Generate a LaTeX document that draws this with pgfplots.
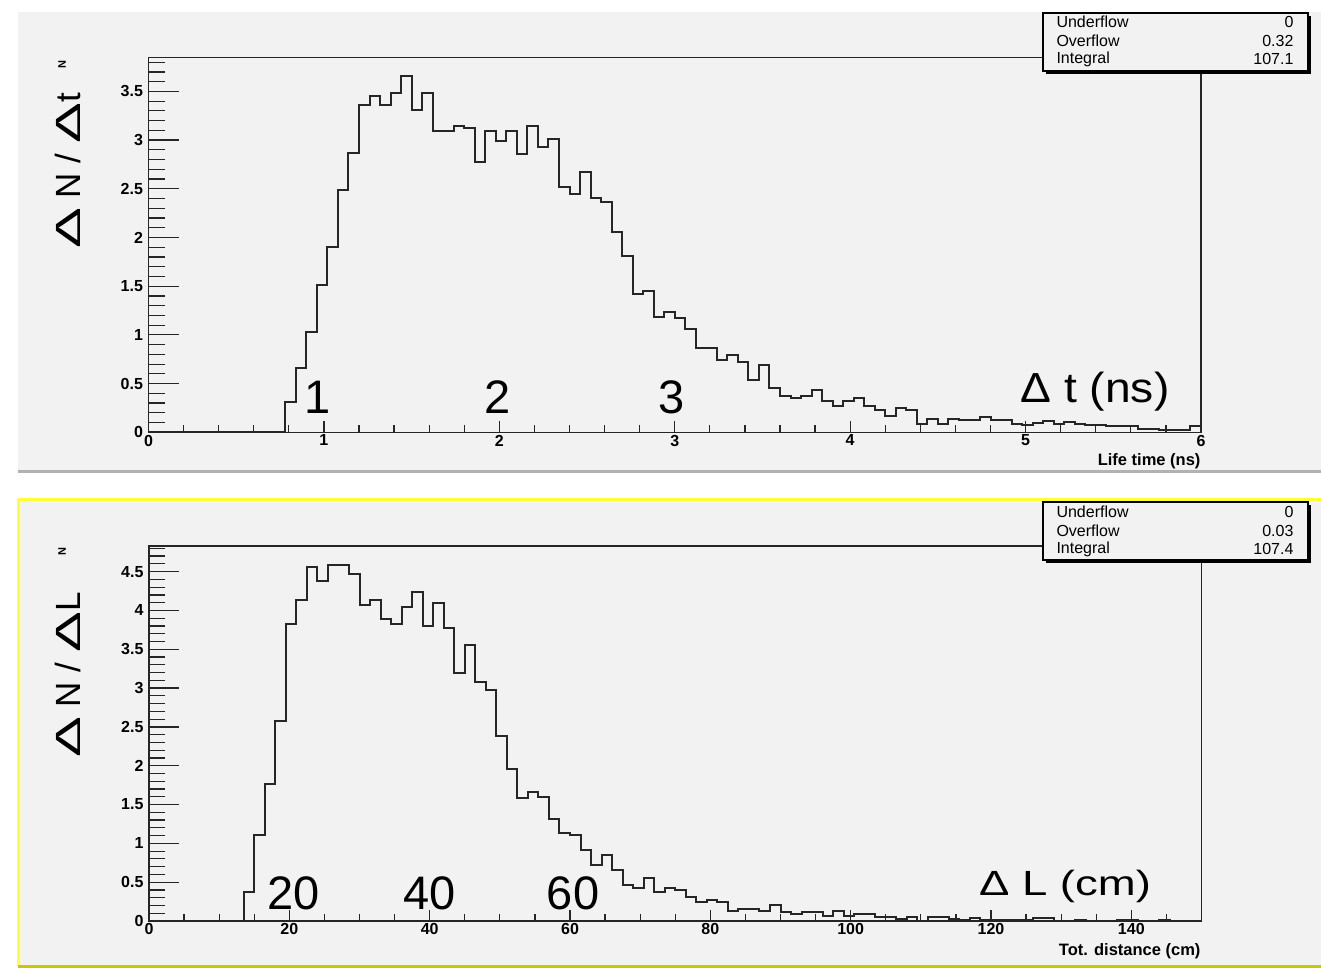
\documentclass[border=0pt]{standalone}
\usepackage{graphicx}
\usepackage{fontspec}
\setmainfont{Liberation Sans}
\usepackage{pgfplots}
\pgfplotsset{compat=1.18}

\definecolor{padgray}{HTML}{F2F2F2}
\definecolor{padyellow}{HTML}{FFFF33}
\definecolor{padolive}{HTML}{C8C800}
\definecolor{histline}{HTML}{262626}

\newcommand{\tickfont}{\fontsize{16}{18}\selectfont\bfseries}
\newcommand{\titlefont}{\fontsize{16.5}{18}\selectfont\bfseries}
\newcommand{\statfont}{\fontsize{16}{18}\selectfont}
\newcommand{\bigfont}{\fontsize{47}{50}\selectfont}
\newcommand{\wD}{\scalebox{1.75}[1]{Δ}}

\pgfplotsset{rootaxis/.style={
    scale only axis, width=1052.5pt, height=375pt, anchor=south west,
    axis line style={line width=1.5pt, black!85},
    tick align=inside, xtick pos=left, ytick pos=left,
    tick style={line width=1.2pt, black!85},
    xtick style={/pgfplots/major tick length=11pt, /pgfplots/minor tick length=7pt},
    ytick style={/pgfplots/major tick length=30pt, /pgfplots/minor tick length=16pt},
    ticklabel style={font=\tickfont},
    /pgf/number format/assume math mode=true,
    yticklabel style={/pgf/number format/fixed, xshift=-2pt},
    xticklabel style={yshift=1pt},
    clip=true,
  }}

\begin{document}
\begin{tikzpicture}
\useasboundingbox (0pt,0pt) rectangle (1321pt,970pt);
\fill[white] (0pt,0pt) rectangle (1321pt,970pt);
% top pad
\fill[padgray] (18pt,498pt) rectangle (1321pt,958pt);
\draw[black!30, line width=3pt] (18pt,498pt) -- (1321pt,498pt);
% bottom pad
\fill[padgray] (18pt,4pt) rectangle (1321pt,470pt);
\draw[padyellow, line width=3pt] (1321pt,470pt) -- (18pt,470pt) -- (18pt,4pt);
\draw[padolive, line width=3pt] (18pt,4pt) -- (1321pt,4pt);

% ---- life time histogram
\begin{axis}[rootaxis, at={(148.5pt,537.7pt)},
    xmin=0, xmax=6, ymin=0, ymax=3.85,
    xtick={0,1,2,3,4,5,6}, minor xtick={0.2,0.4,...,5.8},
    ytick={0,0.5,1,1.5,2,2.5,3,3.5}, minor ytick={0.1,0.2,...,3.8}]
\addplot[const plot, no marks, line width=2pt, histline] coordinates {
(0,0) (0.78,0.31) (0.84,0.66) (0.90,1.03) (0.96,1.51) (1.02,1.90) (1.08,2.49)
(1.14,2.87) (1.20,3.36) (1.26,3.45) (1.32,3.36) (1.38,3.48) (1.44,3.66)
(1.50,3.31) (1.56,3.48) (1.62,3.09) (1.68,3.09) (1.74,3.14) (1.80,3.12)
(1.86,2.78) (1.92,3.09) (1.98,2.99) (2.04,3.09) (2.10,2.86) (2.16,3.14)
(2.22,2.93) (2.28,3.01) (2.34,2.52) (2.40,2.45) (2.46,2.67) (2.52,2.41)
(2.58,2.36) (2.64,2.06) (2.70,1.81) (2.76,1.42) (2.82,1.45) (2.88,1.18)
(2.94,1.24) (3.00,1.17) (3.06,1.06) (3.12,0.87) (3.18,0.87) (3.24,0.74)
(3.30,0.79) (3.36,0.72) (3.42,0.54) (3.48,0.69) (3.54,0.45) (3.60,0.37)
(3.66,0.35) (3.72,0.37) (3.78,0.43) (3.84,0.32) (3.90,0.27) (3.96,0.32)
(4.02,0.35) (4.08,0.27) (4.14,0.23) (4.20,0.17) (4.26,0.25) (4.32,0.23)
(4.38,0.09) (4.44,0.14) (4.50,0.09) (4.56,0.14) (4.62,0.13) (4.68,0.13)
(4.74,0.16) (4.80,0.13) (4.86,0.13) (4.92,0.09) (4.98,0.08) (5.04,0.10)
(5.10,0.12) (5.16,0.09) (5.22,0.11) (5.28,0.09) (5.34,0.08) (5.40,0.08)
(5.46,0.06) (5.52,0.06) (5.58,0.06) (5.64,0.03) (5.70,0.03) (5.76,0.02)
(5.82,0.02) (5.88,0.02) (5.94,0.06) (6.00,0.06)};
\end{axis}

% ---- distance histogram
\begin{axis}[rootaxis, at={(149pt,49pt)},
    xmin=0, xmax=150, ymin=0, ymax=4.83,
    xtick={0,20,40,60,80,100,120,140}, minor xtick={5,10,...,145},
    ytick={0,0.5,1,1.5,2,2.5,3,3.5,4,4.5}, minor ytick={0.1,0.2,...,4.8}]
\addplot[const plot, no marks, line width=2pt, histline] coordinates {
(0,0) (13.5,0.38) (15,1.11) (16.5,1.77) (18,2.57) (19.5,3.83) (21,4.13)
(22.5,4.56) (24,4.38) (25.5,4.59) (27,4.59) (28.5,4.47) (30,4.07) (31.5,4.13)
(33,3.89) (34.5,3.83) (36,4.05) (37.5,4.24) (39,3.80) (40.5,4.10) (42,3.77)
(43.5,3.20) (45,3.56) (46.5,3.08) (48,2.98) (49.5,2.38) (51,1.96) (52.5,1.58)
(54,1.66) (55.5,1.60) (57,1.31) (58.5,1.13) (60,1.11) (61.5,0.91) (63,0.72)
(64.5,0.85) (66,0.66) (67.5,0.46) (69,0.43) (70.5,0.56) (72,0.38) (73.5,0.43)
(75,0.40) (76.5,0.31) (78,0.25) (79.5,0.27) (81,0.24) (82.5,0.13) (84,0.15)
(85.5,0.15) (87,0.13) (88.5,0.21) (90,0.11) (91.5,0.09) (93,0.11) (94.5,0.11)
(96,0.07) (97.5,0.13) (99,0.07) (100.5,0.09) (102,0.09) (103.5,0.05)
(105,0.05) (106.5,0.03) (108,0.05) (109.5,0.00) (111,0.05) (112.5,0.05)
(114,0.02) (115.5,0.01) (117,0.04) (118.5,0.01) (120,0.01) (121.5,0.01)
(123,0.01) (124.5,0.01) (126,0.04) (127.5,0.04) (129,0) (130.5,0) (132,0.01)
(133.5,0) (135,0) (136.5,0) (138,0.01) (139.5,0.01) (141,0) (142.5,0)
(144,0.01) (145.5,0) (147,0) (148.5,0) (150,0)};
\end{axis}

% axis titles
\node[anchor=east, font=\titlefont] at (1204pt,509pt) {Life time (ns)};
\node[anchor=east, font=\titlefont] at (1204pt,19pt) {Tot. distance (cm)};
\node[rotate=90, font=\fontsize{11}{12}\selectfont\bfseries] at (62pt,905pt) {N};
\node[rotate=90, font=\fontsize{11}{12}\selectfont\bfseries] at (62pt,418pt) {N};

% big hand-written labels
\node[rotate=90, anchor=base, font=\fontsize{35}{38}\selectfont] at (80pt,799pt) {\wD\ N / \wD t};
\node[rotate=90, anchor=base, font=\fontsize{35}{38}\selectfont] at (80pt,295pt) {\wD\ N / \wD L};
\node[anchor=base, font=\bigfont] at (318pt,556pt) {1};
\node[anchor=base, font=\bigfont] at (498pt,556pt) {2};
\node[anchor=base, font=\bigfont] at (672pt,556pt) {3};
\node[anchor=base, font=\fontsize{42}{45}\selectfont] at (1095pt,567pt) {\scalebox{1.1}[1]{Δ t (ns)}};
\node[anchor=base, font=\bigfont] at (294pt,61pt) {20};
\node[anchor=base, font=\bigfont] at (430pt,61pt) {40};
\node[anchor=base, font=\bigfont] at (573pt,61pt) {60};
\node[anchor=base, font=\fontsize{35}{38}\selectfont] at (1065pt,75pt) {\scalebox{1.3}[1]{Δ L (cm)}};

% stats boxes
\fill[black] (1046pt,896pt) rectangle (1311pt,954pt);
\filldraw[fill=padgray, draw=black, line width=1.5pt] (1043pt,899pt) rectangle (1308pt,957pt);
\node[anchor=west, font=\statfont] at (1053pt,948pt) {Underflow};
\node[anchor=west, font=\statfont] at (1053pt,929pt) {Overflow};
\node[anchor=west, font=\statfont] at (1053pt,911pt) {Integral};
\node[anchor=east, font=\statfont] at (1297pt,948pt) {0};
\node[anchor=east, font=\statfont] at (1297pt,929pt) {0.32};
\node[anchor=east, font=\statfont] at (1297pt,911pt) {107.1};

\fill[black] (1046pt,407pt) rectangle (1311pt,465pt);
\filldraw[fill=padgray, draw=black, line width=1.5pt] (1043pt,410pt) rectangle (1308pt,468pt);
\node[anchor=west, font=\statfont] at (1053pt,458pt) {Underflow};
\node[anchor=west, font=\statfont] at (1053pt,439pt) {Overflow};
\node[anchor=west, font=\statfont] at (1053pt,421pt) {Integral};
\node[anchor=east, font=\statfont] at (1297pt,458pt) {0};
\node[anchor=east, font=\statfont] at (1297pt,439pt) {0.03};
\node[anchor=east, font=\statfont] at (1297pt,421pt) {107.4};
\end{tikzpicture}
\end{document}
